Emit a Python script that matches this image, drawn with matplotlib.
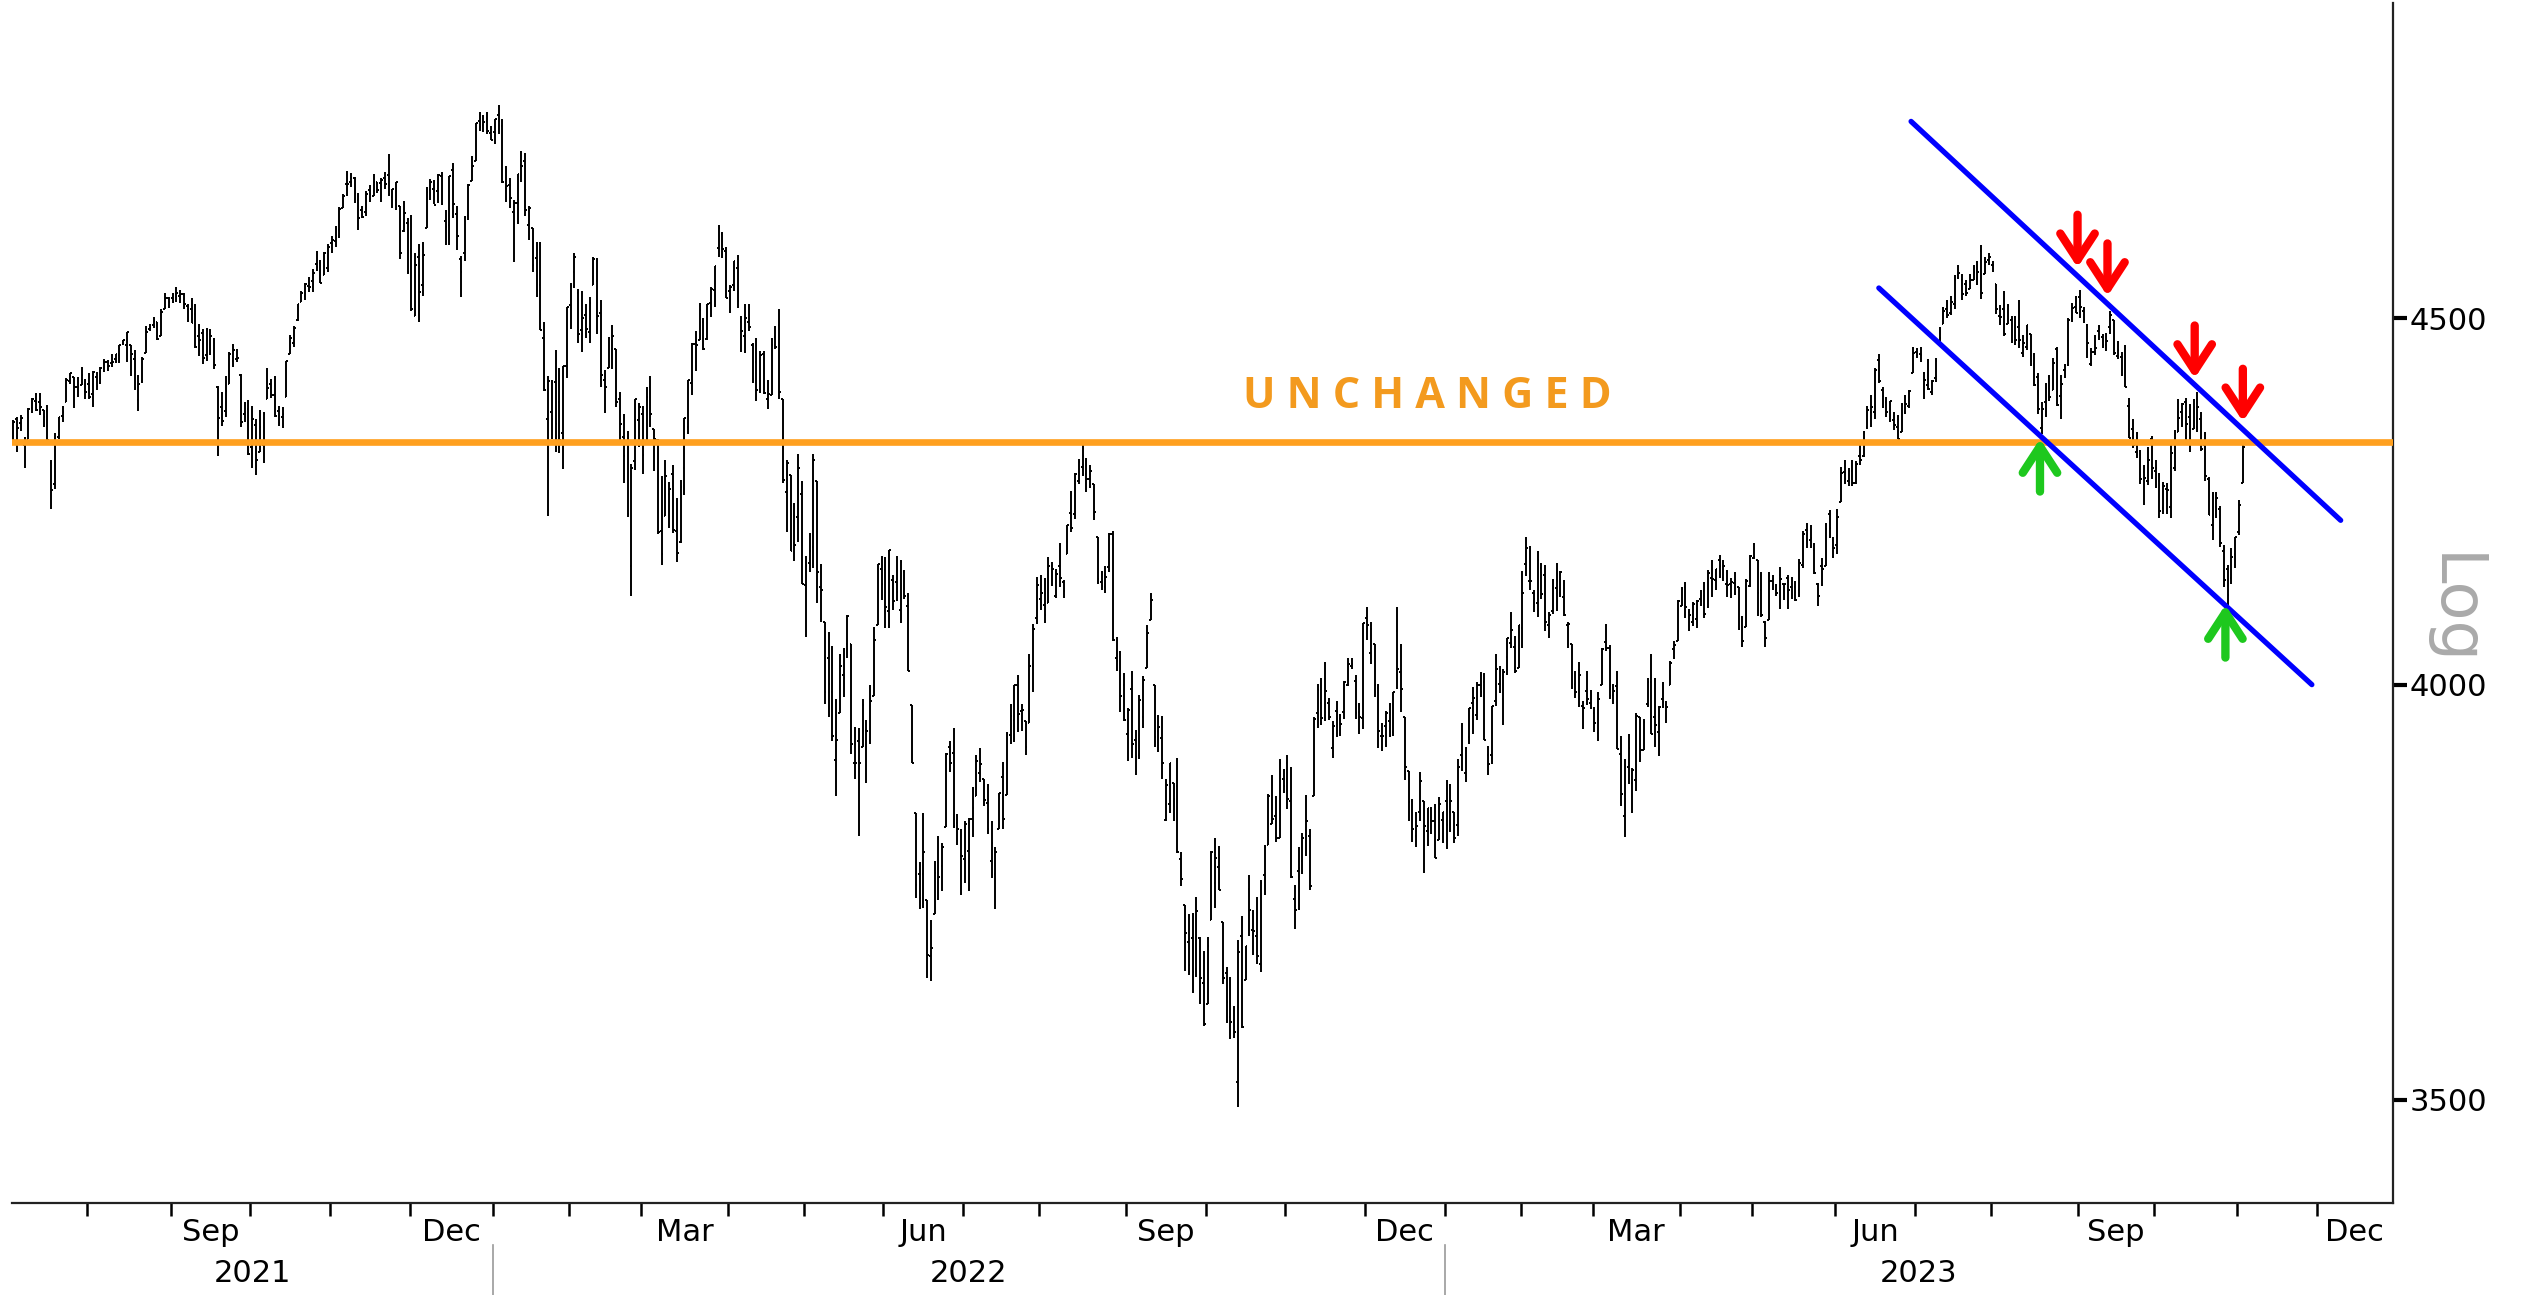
import numpy as np
import pandas as pd
import matplotlib
matplotlib.use("Agg")
import matplotlib.pyplot as plt
from matplotlib.collections import LineCollection
from matplotlib.ticker import FixedLocator, NullFormatter, FixedFormatter, NullLocator
import matplotlib.transforms as mtransforms

# ---------------- data (daily OHLC, 2021-07-01 .. 2023-11-02) ----------------
opens = [
    4300,4322,4357,4351,4321,4329,4372,4382,4381,4369,4368,4296,4266,4332,4361,4381,4410,4416,4402,4404,4396,
    4406,4392,4416,4408,4429,4437,4436,4442,4447,4465,4462,4462,4441,4383,4410,4450,4484,4490,4494,4474,4514,4529,
    4529,4535,4532,4535,4518,4514,4506,4474,4479,4447,4477,4470,4402,4374,4368,4406,4438,4442,4419,4363,4371,
    4317,4348,4310,4320,4384,4406,4391,4368,4359,4387,4448,4464,4498,4524,4532,4547,4554,4579,4581,4563,4573,
    4610,4613,4630,4663,4699,4701,4707,4674,4660,4656,4689,4680,4701,4700,4708,4712,4679,4675,4665,4628,4640,
    4602,4504,4589,4548,4632,4690,4691,4688,4711,4643,4637,4720,4653,4587,4595,4650,4703,4733,4795,4788,4795,4776,
    4778,4804,4787,4693,4697,4656,4670,4728,4733,4637,4632,4588,4548,4471,4357,4367,4409,4381,4337,4432,
    4519,4568,4536,4483,4505,4480,4548,4554,4507,4412,4429,4456,4456,4385,4332,4324,4155,4298,4355,
    4364,4322,4401,4343,4327,4202,4223,4253,4280,4202,4188,4288,4345,4407,4463,4469,4494,4470,4522,4541,4603,4624,4599,
    4540,4548,4573,4495,4474,4495,4462,4437,4397,4449,4385,4390,4473,4490,4385,4256,4279,4187,4222,4253,
    4130,4159,4181,4271,4128,4081,4035,3990,3904,3964,4013,4052,4052,3900,3928,3920,3942,3930,3985,4077,4151,
    4150,4096,4137,4134,4097,4148,4102,3974,3838,3764,3764,3733,3666,3716,3734,3774,3821,3920,3913,3826,3786,
    3782,3792,3831,3859,3888,3880,3851,3779,3764,3818,3883,3860,3936,3955,3999,3966,3954,3951,4027,4087,
    4112,4104,4107,4155,4116,4155,4134,4171,4227,4225,4270,4290,4280,4273,4266,4195,4134,4127,4154,4199,4034,4042,4000,
    3937,3995,3930,3910,3959,4022,4084,4000,3941,3932,3830,3849,3876,3872,3782,3727,3682,3687,3651,3687,3634,
    3610,3709,3753,3772,3706,3646,3595,3591,3520,3690,3638,3746,3697,3689,3657,3763,3799,3825,3835,3808,3881,
    3901,3853,3734,3767,3780,3817,3810,3859,3964,3977,4007,3977,3919,3966,3956,3965,4000,4024,4005,3965,3957,
    4087,4041,4052,3996,3934,3947,3954,3940,4069,4016,3958,3890,3853,3810,3840,3853,3816,3843,3829,3805,3830,
    3853,3840,3840,3823,3910,3888,3933,3977,3961,3999,4003,3911,3910,3979,4001,3982,4036,4054,4049,4021,
    4074,4158,4136,4119,4106,4153,4144,4077,4096,4126,4119,4114,4077,4052,4001,4019,3973,3992,3977,
    3964,3938,3999,4055,4048,3987,3998,3912,3835,3895,3876,3879,3958,3917,3975,4003,3959,3939,3982,3974,3999,4046,4056,
    4103,4128,4095,4082,4085,4111,4122,4101,4140,4137,4164,4140,4131,4132,4133,4127,4088,4075,4129,
    4166,4164,4123,4082,4084,4136,4124,4143,4132,4139,4127,4128,4123,4157,4204,4191,4177,4132,4155,4156,4226,4191,
    4184,4242,4283,4271,4285,4268,4305,4305,4345,4367,4366,4440,4397,4380,4355,4355,4345,4338,4367,4375,4422,
    4451,4449,4422,4405,4394,4415,4467,4492,4514,4508,4521,4563,4555,4550,4543,4556,4559,4599,4565,4585,
    4578,4550,4503,4514,4492,4498,4502,4488,4450,4459,4478,4434,4416,4344,4380,4416,4397,4456,4389,4426,4433,4500,4517,
    4531,4511,4490,4434,4452,4481,4473,4462,4487,4497,4446,4445,4453,4375,4342,4311,4312,4283,4270,4328,
    4284,4270,4234,4259,4235,4289,4339,4366,4381,4360,4343,4346,4357,4321,4273,4211,4235,4233,4175,4152,4139,4172,
    4201,4268,
]
highs = [
    4320,4355,4359,4362,4331,4372,4386,4393,4393,4369,4376,4300,4337,4359,4375,4415,4422,4416,4416,4430,4413,
    4422,4424,4423,4430,4441,4440,4449,4449,4461,4468,4480,4462,4454,4418,4444,4489,4492,4502,4495,4513,4537,4531,
    4537,4545,4541,4536,4521,4529,4520,4492,4485,4486,4485,4471,4403,4394,4417,4451,4463,4456,4420,4380,4383,
    4375,4356,4369,4366,4429,4413,4417,4375,4373,4439,4476,4489,4521,4540,4551,4560,4572,4598,4585,4597,4608,
    4621,4635,4664,4683,4718,4715,4709,4685,4666,4688,4697,4714,4701,4708,4717,4744,4691,4702,4665,4673,4647,
    4652,4596,4608,4612,4694,4706,4705,4713,4716,4660,4710,4731,4666,4591,4651,4698,4741,4791,4808,4804,4808,4787,
    4797,4819,4798,4725,4708,4674,4714,4749,4745,4666,4632,4612,4611,4495,4417,4411,4454,4428,4432,4516,
    4551,4595,4542,4540,4521,4531,4590,4588,4527,4426,4473,4490,4456,4395,4363,4340,4294,4385,4379,
    4375,4401,4417,4343,4328,4277,4300,4269,4292,4247,4272,4358,4412,4465,4481,4522,4501,4521,4546,4576,4637,4627,4604,
    4548,4583,4593,4504,4521,4520,4464,4471,4453,4453,4411,4471,4489,4513,4385,4300,4279,4240,4308,4270,
    4169,4200,4308,4271,4158,4082,4068,4050,3981,4039,4047,4090,4052,3946,3944,3982,3955,3999,4075,4158,4169,
    4167,4177,4143,4169,4164,4150,4119,3974,3838,3778,3838,3733,3708,3779,3810,3802,3913,3928,3945,3837,3818,
    3829,3832,3871,3910,3919,3880,3874,3829,3796,3863,3902,3939,3975,3999,4013,3975,3954,4039,4079,4141,
    4144,4140,4168,4161,4152,4187,4137,4211,4257,4281,4301,4326,4303,4293,4266,4195,4149,4156,4200,4203,4062,4044,4015,
    3970,4018,3942,3987,4011,4077,4119,4000,3961,3960,3880,3901,3876,3907,3790,3727,3716,3717,3736,3688,3672,
    3688,3792,3807,3798,3706,3653,3641,3607,3685,3713,3678,3763,3720,3736,3757,3799,3862,3886,3859,3905,3893,
    3911,3895,3750,3796,3814,3860,3818,3958,4001,4009,4029,3983,3954,3979,3962,4005,4034,4035,4013,3976,4080,
    4101,4081,4053,4001,3951,3966,3977,3991,4101,4053,3958,3890,3855,3839,3889,3853,3845,3846,3849,3858,3840,
    3879,3874,3840,3906,3951,3920,3970,3997,4003,4016,4015,3922,3973,4039,4024,4020,4061,4095,4063,4077,
    4149,4195,4182,4124,4176,4160,4157,4095,4138,4160,4149,4137,4081,4052,4018,4029,3979,4018,3993,
    3971,3991,4048,4079,4051,4001,4018,3934,3906,3937,3894,3964,3959,3956,4009,4040,4008,3973,4004,3979,4031,4057,4110,
    4128,4134,4099,4108,4110,4124,4134,4150,4164,4152,4170,4163,4150,4139,4147,4127,4089,4138,4170,
    4187,4164,4148,4083,4147,4143,4131,4154,4132,4143,4141,4135,4165,4203,4213,4210,4186,4133,4166,4213,4231,4195,
    4232,4290,4299,4288,4299,4298,4323,4340,4375,4391,4428,4449,4401,4387,4382,4367,4362,4379,4390,4398,4458,
    4457,4458,4423,4442,4412,4443,4488,4517,4527,4532,4563,4578,4565,4555,4564,4577,4583,4607,4590,4595,
    4584,4550,4519,4540,4520,4504,4503,4527,4476,4490,4478,4450,4421,4381,4407,4418,4443,4458,4419,4434,4500,4522,4533,
    4541,4516,4491,4457,4476,4490,4478,4479,4511,4497,4467,4452,4462,4386,4357,4338,4313,4293,4317,4333,
    4300,4282,4269,4268,4324,4341,4385,4379,4386,4377,4384,4394,4366,4339,4276,4256,4255,4236,4184,4157,4179,4194,
    4245,4320,
]
lows = [
    4300,4322,4311,4340,4289,4329,4365,4368,4362,4345,4325,4233,4259,4329,4352,4381,4406,4372,4387,4404,4385,
    4385,4373,4398,4406,4423,4425,4430,4436,4436,4461,4437,4417,4398,4368,4407,4450,4482,4486,4469,4474,4514,4515,
    4522,4524,4522,4513,4494,4493,4457,4446,4435,4439,4447,4427,4305,4347,4360,4406,4430,4437,4346,4352,4307,
    4289,4279,4310,4296,4384,4386,4360,4347,4344,4387,4448,4459,4496,4524,4526,4538,4538,4569,4552,4563,4567,
    4595,4604,4617,4662,4681,4694,4670,4630,4648,4651,4672,4680,4685,4672,4691,4680,4663,4659,4586,4626,4565,
    4511,4504,4495,4532,4632,4675,4668,4670,4667,4607,4607,4648,4600,4531,4583,4645,4703,4733,4780,4778,4775,4766,
    4759,4775,4700,4671,4663,4582,4638,4702,4651,4614,4568,4531,4483,4396,4223,4329,4310,4309,4287,4415,
    4484,4544,4465,4451,4471,4465,4548,4478,4401,4365,4429,4427,4374,4327,4268,4222,4115,4286,4317,
    4280,4322,4346,4284,4199,4157,4223,4207,4200,4161,4187,4251,4335,4390,4424,4469,4455,4468,4502,4517,4589,4588,4530,
    4507,4539,4515,4452,4450,4481,4408,4382,4393,4392,4370,4390,4456,4385,4268,4201,4175,4162,4188,4131,
    4062,4147,4153,4107,4082,3975,3958,3928,3859,3964,3984,4034,3912,3880,3810,3920,3875,3925,3985,4077,4110,
    4074,4074,4097,4109,4080,4111,4018,3901,3735,3722,3723,3640,3637,3716,3733,3743,3821,3889,3820,3799,3739,
    3753,3743,3809,3859,3877,3847,3812,3759,3722,3818,3818,3860,3924,3927,3939,3941,3910,3951,3990,4079,
    4097,4080,4107,4129,4113,4128,4113,4171,4201,4219,4267,4277,4255,4261,4218,4131,4124,4119,4147,4057,4017,3965,3954,
    3903,3907,3886,3906,3945,4022,4084,3921,3914,3880,3828,3838,3828,3789,3749,3648,3644,3623,3641,3610,3584,
    3610,3709,3723,3744,3633,3588,3569,3570,3492,3582,3638,3690,3667,3657,3647,3739,3799,3825,3803,3808,3863,
    3843,3759,3698,3721,3764,3786,3745,3859,3944,3949,3954,3955,3907,3933,3934,3956,3998,4020,3956,3937,3943,
    4058,4027,3984,3919,3916,3921,3933,3935,3994,3965,3879,3828,3803,3796,3828,3765,3798,3813,3783,3805,3801,
    3794,3815,3802,3810,3890,3877,3925,3937,3955,3984,3929,3885,3899,3973,3989,3949,4013,4048,4015,4021,
    4047,4142,4124,4094,4088,4111,4070,4060,4092,4096,4114,4089,4048,3995,3983,3971,3943,3974,3969,
    3939,3928,3999,4044,3981,3975,3918,3847,3809,3874,3838,3865,3902,3917,3971,3937,3920,3909,3970,3951,3999,4033,4056,
    4102,4087,4070,4076,4073,4102,4086,4100,4114,4123,4140,4135,4114,4113,4117,4071,4049,4075,4128,
    4165,4089,4088,4049,4084,4124,4116,4099,4110,4099,4111,4109,4114,4153,4180,4180,4145,4103,4129,4155,4193,4166,
    4172,4242,4267,4264,4264,4266,4293,4304,4342,4346,4357,4407,4372,4360,4352,4341,4328,4338,4364,4372,4422,
    4443,4437,4385,4398,4390,4409,4463,4491,4500,4505,4514,4557,4527,4532,4542,4555,4549,4528,4564,4577,
    4567,4506,4490,4474,4492,4465,4461,4457,4444,4454,4432,4403,4364,4335,4360,4382,4397,4375,4357,4414,4431,4494,4507,
    4501,4493,4443,4431,4447,4468,4457,4453,4478,4447,4442,4417,4402,4330,4316,4303,4266,4238,4265,4274,
    4261,4220,4226,4225,4220,4284,4339,4346,4325,4311,4343,4339,4312,4270,4224,4190,4220,4181,4128,4104,4132,4153,
    4197,4268,
]
closes = [
    4320,4352,4344,4358,4321,4370,4385,4369,4374,4360,4327,4258,4323,4359,4367,4412,4422,4401,4401,4419,4395,
    4387,4423,4403,4429,4437,4432,4437,4448,4461,4468,4480,4448,4400,4406,4442,4480,4486,4496,4470,4509,4529,4523,
    4524,4537,4535,4520,4514,4493,4459,4469,4443,4481,4474,4433,4358,4354,4396,4449,4455,4443,4353,4359,4308,
    4357,4300,4346,4364,4400,4391,4361,4351,4364,4438,4471,4486,4520,4536,4550,4545,4566,4575,4552,4596,4605,
    4614,4631,4661,4680,4698,4702,4685,4647,4649,4683,4683,4701,4689,4705,4698,4683,4691,4701,4595,4655,4567,
    4513,4577,4538,4592,4687,4701,4667,4712,4669,4634,4710,4669,4621,4568,4649,4697,4726,4791,4786,4793,4779,4766,
    4797,4794,4701,4696,4677,4670,4713,4726,4659,4663,4577,4533,4483,4398,4410,4356,4350,4327,4432,4516,
    4547,4589,4477,4501,4484,4522,4587,4504,4419,4402,4471,4475,4380,4349,4305,4226,4289,4385,4374,
    4306,4387,4363,4329,4201,4171,4278,4260,4204,4173,4262,4358,4412,4463,4461,4512,4456,4520,4543,4576,4632,4602,4530,
    4546,4583,4525,4481,4500,4488,4413,4397,4447,4393,4392,4462,4459,4394,4272,4296,4175,4184,4288,4132,
    4155,4175,4300,4147,4123,3991,4001,3935,3930,4024,4008,4089,3924,3901,3901,3974,3941,3979,4058,4158,4132,
    4101,4177,4109,4121,4161,4116,4018,3901,3750,3735,3790,3667,3675,3765,3760,3796,3912,3900,3822,3819,3785,
    3825,3831,3845,3903,3899,3854,3819,3802,3790,3863,3831,3937,3960,3999,3962,3967,3921,4024,4072,4130,
    4119,4091,4155,4152,4145,4140,4122,4210,4207,4280,4297,4305,4274,4284,4228,4138,4129,4141,4199,4058,4031,3986,3955,
    3967,3924,3908,3980,4006,4067,4110,3933,3946,3901,3873,3900,3856,3790,3758,3693,3655,3647,3719,3640,3586,
    3678,3791,3783,3745,3640,3612,3589,3577,3670,3583,3678,3720,3695,3666,3753,3797,3859,3831,3807,3901,3872,
    3856,3760,3720,3771,3807,3828,3749,3956,3993,3957,3992,3959,3947,3965,3950,4004,4027,4026,3964,3958,4080,
    4077,4072,3999,3941,3934,3964,3934,3991,4020,3995,3896,3852,3818,3822,3878,3822,3845,3829,3783,3849,3840,
    3824,3853,3808,3895,3892,3919,3970,3983,3999,3991,3929,3899,3973,4020,4017,4016,4060,4071,4018,4077,
    4119,4180,4136,4111,4164,4118,4082,4090,4137,4136,4148,4090,4079,3997,3991,4012,3970,3982,3970,
    3951,3981,4046,4048,3986,3992,3918,3862,3856,3919,3892,3960,3917,3952,4003,3937,3949,3971,3978,3971,4028,4051,4109,
    4125,4101,4090,4105,4109,4109,4092,4146,4138,4151,4155,4155,4130,4134,4137,4072,4056,4135,4169,
    4168,4120,4091,4061,4136,4138,4119,4138,4131,4124,4136,4110,4159,4198,4192,4193,4146,4115,4151,4205,4206,4180,
    4221,4282,4274,4284,4268,4294,4299,4339,4369,4373,4426,4410,4389,4366,4382,4348,4329,4378,4377,4396,4450,
    4456,4447,4412,4399,4410,4439,4472,4510,4505,4523,4555,4566,4535,4536,4555,4567,4567,4537,4582,4589,
    4577,4513,4502,4478,4518,4499,4468,4469,4464,4490,4438,4404,4370,4370,4400,4388,4436,4376,4406,4433,4498,4515,4508,
    4516,4497,4465,4451,4457,4487,4462,4467,4505,4450,4454,4444,4402,4330,4320,4337,4274,4275,4300,4288,
    4288,4229,4264,4258,4309,4336,4358,4377,4350,4328,4374,4373,4315,4278,4224,4217,4248,4187,4137,4117,4167,4194,
    4238,4318,
]

unchanged_level = 4325
channel_upper_x = [501.5, 614.8]
channel_upper_y = [4794, 4217]
channel_lower_x = [493.0, 607.2]
channel_lower_y = [4544, 4000]
red_arrow_x = [545.4, 553.3, 576.3, 589.0]
red_arrow_y = [4574, 4532, 4414, 4353]
green_arrow_x = [535.5, 584.4]
green_arrow_y = [4329, 4104]
y_ticks = [3500, 4000, 4500]
label_months = {3: "Mar", 6: "Jun", 9: "Sep", 12: "Dec"}

holidays = pd.to_datetime([
    "2021-07-05", "2021-09-06", "2021-11-25", "2021-12-24",
    "2022-01-17", "2022-02-21", "2022-04-15", "2022-05-30", "2022-06-20", "2022-07-04",
    "2022-09-05", "2022-11-24", "2022-12-26",
    "2023-01-02", "2023-01-16", "2023-02-20", "2023-04-07", "2023-05-29", "2023-06-19",
    "2023-07-04", "2023-09-04", "2023-11-23", "2023-12-25",
])

assert len(opens) == len(highs) == len(lows) == len(closes), (len(opens), len(highs), len(lows), len(closes))

cal = pd.bdate_range("2021-07-01", "2023-12-29")
cal = cal[~cal.isin(holidays)]
n = len(closes)

# ---------------- figure ----------------
W, H = 2533, 1295
fig = plt.figure(figsize=(W / 100, H / 100), dpi=100)
ax = fig.add_axes([12 / W, 1 - 1203 / H, (2393 - 12) / W, (1203 - 3) / H])
ax.set_yscale("log")
xlim = (0.66, 628.6)
ax.set_xlim(*xlim)
ax.set_ylim(3386, 4980)

segs = []
for i in range(n):
    segs.append([(i, lows[i]), (i, highs[i])])
    segs.append([(i - 0.45, opens[i]), (i, opens[i])])
    segs.append([(i, closes[i]), (i + 0.45, closes[i])])
ax.add_collection(LineCollection(segs, colors="black", linewidths=1.4, capstyle="butt", zorder=2))

# reference lines
ax.axhline(unchanged_level, color="#FFA01F", lw=4.8, zorder=3)
ax.plot(channel_upper_x, channel_upper_y, color="#0000FF", lw=3.8, solid_capstyle="round", zorder=4)
ax.plot(channel_lower_x, channel_lower_y, color="#0000FF", lw=3.8, solid_capstyle="round", zorder=4)

ax.text(374, 4388, "U N C H A N G E D", ha="center", va="center", fontsize=31,
        fontweight="bold", color="#F39A1E", family=["Open Sans", "DejaVu Sans"], zorder=5)

arrow_style = "->,head_length=0.95,head_width=0.62"
for xv, yv in zip(red_arrow_x, red_arrow_y):
    ax.annotate("", xy=(xv, yv), xytext=(0, 38), textcoords="offset points",
                arrowprops=dict(arrowstyle=arrow_style, lw=6, color="#FF0000",
                                shrinkA=0, shrinkB=0, mutation_scale=20), zorder=6)
for xv, yv in zip(green_arrow_x, green_arrow_y):
    ax.annotate("", xy=(xv, yv), xytext=(0, -38), textcoords="offset points",
                arrowprops=dict(arrowstyle=arrow_style, lw=6, color="#1EC81E",
                                shrinkA=0, shrinkB=0, mutation_scale=20), zorder=6)

# ---------------- axes styling ----------------
for s in ("top", "left"):
    ax.spines[s].set_visible(False)
for s in ("right", "bottom"):
    ax.spines[s].set_linewidth(1.6)
    ax.spines[s].set_color("#222222")

ax.yaxis.tick_right()
ax.yaxis.set_major_locator(FixedLocator(y_ticks))
ax.yaxis.set_major_formatter(FixedFormatter([str(v) for v in y_ticks]))
ax.yaxis.set_minor_locator(NullLocator())
ax.tick_params(axis="y", which="major", direction="out", length=10, width=3,
               labelsize=22, pad=2, colors="black")

# month ticks (trading-day axis)
months = pd.Series(cal.to_period("M"))
starts = [i for i in range(1, len(cal)) if months[i] != months[i - 1]]
month_ticks = [s - 0.5 for s in starts]
bounds = [0] + starts + [len(cal)]
lab_pos, lab_txt = [], []
for k in range(len(bounds) - 1):
    m = cal[bounds[k]].month
    if m in label_months:
        lab_pos.append((bounds[k] + bounds[k + 1]) / 2 - 0.5)
        lab_txt.append(label_months[m])
ax.xaxis.set_major_locator(FixedLocator(month_ticks))
ax.xaxis.set_major_formatter(NullFormatter())
ax.xaxis.set_minor_locator(FixedLocator(lab_pos))
ax.xaxis.set_minor_formatter(FixedFormatter(lab_txt))
ax.tick_params(axis="x", which="major", direction="out", length=9, width=1.8, colors="black")
ax.tick_params(axis="x", which="minor", length=0, pad=11, labelsize=22)

trans = mtransforms.blended_transform_factory(ax.transData, ax.transAxes)
years = sorted(set(cal.year))
for y in years:
    idx = np.where(cal.year == y)[0]
    a = max(xlim[0], idx[0] - 0.5)
    b = min(xlim[1], idx[-1] + 0.5)
    ax.text((a + b) / 2, -0.059, str(y), transform=trans, ha="center", va="center",
            fontsize=22, color="black", clip_on=False)
    if idx[0] > 0:
        ax.plot([idx[0] - 0.5, idx[0] - 0.5], [-0.035, -0.08], transform=trans,
                color="#999999", lw=1.2, clip_on=False)

ax.text(1.0252, 0.494, "Log", rotation=270, transform=ax.transAxes, ha="center", va="center",
        fontsize=46, color="#AAAAAA")

fig.savefig("out.png", dpi=100)
